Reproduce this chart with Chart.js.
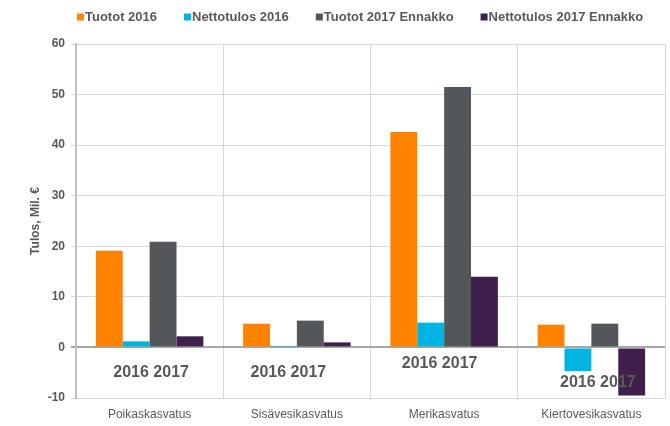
<!DOCTYPE html>
<html>
<head>
<meta charset="utf-8">
<script src="https://cdn.jsdelivr.net/npm/chart.js@4/dist/chart.umd.min.js"></script>
<style>
  html, body { margin: 0; padding: 0; background: #ffffff; }
  #wrap { width: 670px; height: 426px; position: relative; }
</style>
</head>
<body>
<div id="wrap"><canvas id="c" width="670" height="426"></canvas></div>
<script>
const categories = ['Poikaskasvatus', 'Sisävesikasvatus', 'Merikasvatus', 'Kiertovesikasvatus'];
const seriesNames = ['Tuotot 2016', 'Nettotulos 2016', 'Tuotot 2017 Ennakko', 'Nettotulos 2017 Ennakko'];
const tuotot2016 = [19.1, 4.7, 42.6, 4.5];
const nettotulos2016 = [1.2, 0.3, 4.9, -4.7];
const tuotot2017 = [20.9, 5.3, 51.5, 4.7];
const nettotulos2017 = [2.2, 1.0, 14.0, -9.5];
const yearLabel = '2016 2017';
const yTitle = 'Tulos, Mil. €';

const colors = ['#FF8200', '#00B5E2', '#53575A', '#3F1F4C'];
const FONT = '"Liberation Sans", Arial, sans-serif';
const GREY = '#595959';

const legendPlugin = {
  id: 'customLegend',
  afterDraw(chart) {
    const ctx = chart.ctx;
    ctx.save();
    ctx.font = 'bold 13px ' + FONT;
    ctx.textBaseline = 'middle';
    let x = 77;
    const y = 17;
    chart.data.datasets.forEach(ds => {
      ctx.fillStyle = ds.backgroundColor;
      ctx.fillRect(x, y - 3.5, 7, 7);
      x += 8;
      ctx.fillStyle = GREY;
      ctx.fillText(ds.label, x, y + 0.5);
      x += ctx.measureText(ds.label).width + 27;
    });
    ctx.restore();
  }
};

const yearPlugin = {
  id: 'yearLabels',
  afterDatasetsDraw(chart) {
    const ctx = chart.ctx;
    const xs = chart.scales.x, ys = chart.scales.y;
    const dx = [1.5, -8.5, -4.5, 6.5];
    const dy = [25, 25, 16, 35];
    ctx.save();
    ctx.font = 'bold 16px ' + FONT;
    ctx.fillStyle = GREY;
    ctx.textAlign = 'center';
    ctx.textBaseline = 'middle';
    categories.forEach((c, i) => {
      ctx.fillText(yearLabel, xs.getPixelForValue(i) + dx[i], ys.getPixelForValue(0) + dy[i]);
    });
    ctx.restore();
  }
};

const data = {
  labels: categories,
  datasets: [tuotot2016, nettotulos2016, tuotot2017, nettotulos2017].map((d, i) => ({
    label: seriesNames[i],
    data: d,
    backgroundColor: colors[i],
    borderWidth: 0,
    categoryPercentage: 0.73,
    barPercentage: 1.0
  }))
};

new Chart(document.getElementById('c'), {
  type: 'bar',
  data,
  plugins: [legendPlugin, yearPlugin],
  options: {
    responsive: false,
    animation: false,
    devicePixelRatio: 1,
    layout: { padding: { top: 44, left: 24, right: 5, bottom: 0 } },
    plugins: { legend: { display: false }, tooltip: { enabled: false } },
    scales: {
      x: {
        afterFit(scale) { scale.height = 28; },
        grid: { color: '#d9d9d9', lineWidth: 1, offset: true, drawTicks: false },
        border: { color: '#d9d9d9', width: 1 },
        ticks: { font: { family: FONT, size: 12 }, color: GREY, padding: 9 }
      },
      y: {
        min: -10, max: 60,
        afterFit(scale) { scale.width = 52; },
        grid: {
          color: ctx => (ctx.tick && ctx.tick.value === 0) ? '#a6a6a6' : '#d9d9d9',
          lineWidth: ctx => (ctx.tick && ctx.tick.value === 0) ? 2 : 1,
          tickLength: 5
        },
        border: { color: '#bfbfbf', width: 2 },
        ticks: { stepSize: 10, font: { family: FONT, size: 12, weight: 'bold' }, color: GREY, padding: 6 },
        title: { display: true, text: yTitle, font: { family: FONT, size: 12, weight: 'bold' }, color: GREY, padding: { top: 4, bottom: 4 } }
      }
    }
  }
});
</script>
</body>
</html>
